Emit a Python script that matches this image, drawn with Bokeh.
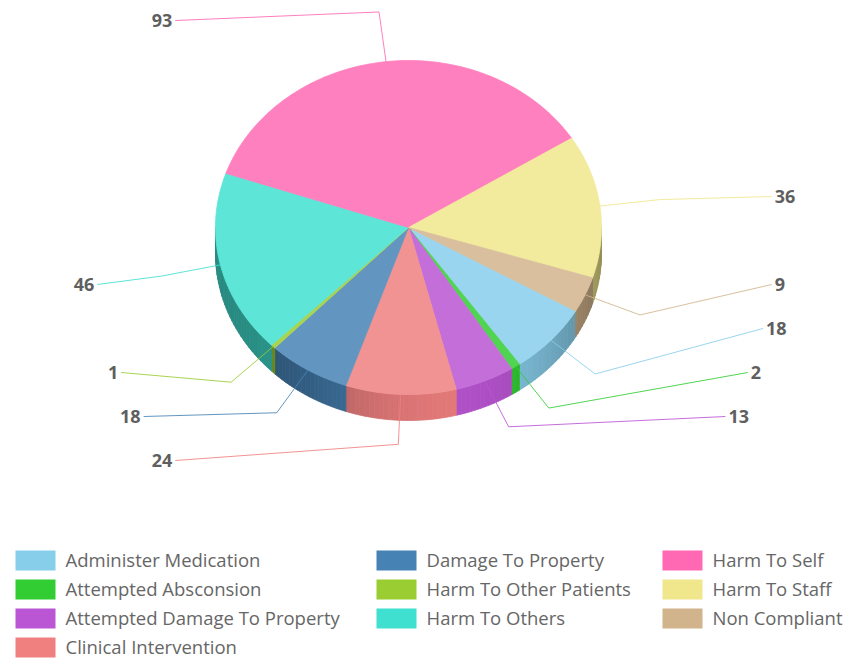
import math
import numpy as np
from bokeh.plotting import figure
from bokeh.models import Range1d, ColumnDataSource
from bokeh.core.properties import value
from bokeh.embed import file_html
from bokeh.resources import INLINE

# ---------------- data ----------------
categories = ["Administer Medication", "Attempted Absconsion", "Attempted Damage To Property",
              "Clinical Intervention", "Damage To Property", "Harm To Other Patients",
              "Harm To Others", "Harm To Self", "Harm To Staff", "Non Compliant"]
counts = [18, 2, 13, 24, 18, 1, 46, 93, 36, 9]
colors = ["#87CEEB", "#32CD32", "#BA55D3", "#F08080", "#4682B4", "#9ACD32",
          "#40E0D0", "#FF69B4", "#F0E68C", "#D2B48C"]

# ---------------- layout (picture pixel coordinates) ----------------
W, H = 846, 659
CX, CY = 408.0, 227.0
RX, RY = 193.0, 167.0
DEPTH = 26.0
START_DEG = -30.0
KNEE_DX, KNEE_DY = 60.0, 50.0
SLOT0, SLOT_STEP = 20.0, 44.0
LAB_CX, LAB_CY, LAB_R = CX + 26, CY + 13, 340.0
LEG_COLS_X = [15, 376, 662]
LEG_ROW0, LEG_ROW_STEP = 550, 29
FONT = "Open Sans"


def rgb(h):
    h = h.lstrip("#")
    return [int(h[i:i + 2], 16) for i in (0, 2, 4)]


def to_hex(c):
    return "#%02x%02x%02x" % tuple(max(0, min(255, int(round(v)))) for v in c)


def face_color(h):
    return to_hex([v * 0.85 + 255 * 0.15 for v in rgb(h)])


def wall_color(h, tdeg):
    f = 0.62 + 0.32 * max(0.0, math.cos(math.radians(tdeg + 75))) ** 3
    return to_hex([v * f for v in rgb(h)])


def ex(t):
    return CX + RX * math.cos(t)


def ey(t):
    return CY - RY * math.sin(t)


p = figure(width=W, height=H, output_backend="svg", toolbar_location=None,
           x_range=Range1d(0, W), y_range=Range1d(H, 0),
           x_axis_type=None, y_axis_type=None, min_border=0)
p.grid.visible = False
p.outline_line_color = None
p.background_fill_color = "white"
p.border_fill_color = "white"

total = float(sum(counts))
angles = []
a = math.radians(START_DEG)
for c in counts:
    sweep = c / total * 2 * math.pi
    angles.append((a - sweep, a))  # (end, start), clockwise
    a -= sweep

# ---------------- side walls ----------------
wx, wy, wc = [], [], []
for (lo0, hi0), col in zip(angles, colors):
    for k in (-1, 0, 1):
        lo = max(lo0, -math.pi + 2 * math.pi * k)
        hi = min(hi0, 2 * math.pi * k)
        if lo >= hi:
            continue
        n = max(1, int(math.ceil(math.degrees(hi - lo) / 1.5)))
        ts = np.linspace(lo, hi, n + 1)
        for t1, t2 in zip(ts[:-1], ts[1:]):
            xs = [ex(t1), ex(t2), ex(t2), ex(t1)]
            ys = [ey(t1), ey(t2), ey(t2) + DEPTH, ey(t1) + DEPTH]
            wx.append(xs)
            wy.append(ys)
            tm = math.degrees((t1 + t2) / 2 - 2 * math.pi * k)
            wc.append(wall_color(col, tm))
p.patches(wx, wy, fill_color=wc, line_color=wc, line_width=0.8)

# ---------------- top faces ----------------
fx, fy, fc = [], [], []
for (lo, hi), col in zip(angles, colors):
    n = max(2, int(math.ceil(math.degrees(hi - lo))))
    ts = np.linspace(hi, lo, n + 1)
    fx.append([CX] + [ex(t) for t in ts])
    fy.append([CY] + [ey(t) for t in ts])
    fc.append(face_color(col))
p.patches(fx, fy, fill_color=fc, line_color=fc, line_width=0.8)

# ---------------- labels & leader lines ----------------
info = []
for i, ((lo, hi), c) in enumerate(zip(angles, counts)):
    m = (lo + hi) / 2
    sx, sy = ex(m), ey(m)
    kx = CX + (RX + KNEE_DX) * math.cos(m)
    ky = CY - (RY + KNEE_DY) * math.sin(m)
    side = 1 if math.cos(m) >= 0 else -1
    info.append(dict(i=i, sx=sx, sy=sy, kx=kx, ky=ky, side=side))

for side in (1, -1):
    items = sorted([d for d in info if d["side"] == side], key=lambda d: -d["ky"])
    prev = 10 ** 6
    for d in items:
        idx = int(round((d["ky"] - SLOT0) / SLOT_STEP))
        idx = min(idx, prev - 1)
        prev = idx
        ly = SLOT0 + idx * SLOT_STEP
        dy = ly - LAB_CY
        lx = LAB_CX + side * math.sqrt(max(0.0, LAB_R ** 2 - dy ** 2))
        d["lx"], d["ly"] = lx, ly

lxs = [[d["sx"], d["kx"], d["lx"]] for d in info]
lys = [[d["sy"], d["ky"], d["ly"]] for d in info]
p.multi_line(lxs, lys, line_color=[colors[d["i"]] for d in info], line_width=1, line_alpha=0.85)

for side, align in ((1, "left"), (-1, "right")):
    ds = [d for d in info if d["side"] == side]
    src = ColumnDataSource(dict(x=[d["lx"] + side * 3 for d in ds], y=[d["ly"] for d in ds],
                                t=[str(counts[d["i"]]) for d in ds]))
    p.text(x="x", y="y", text="t", source=src, text_align=align, text_baseline="middle",
           text_font=value(FONT), text_font_style="bold", text_font_size="18px",
           text_color="#5f5f5f")

# ---------------- legend ----------------
ncol = len(LEG_COLS_X)
base, extra = divmod(len(categories), ncol)
per_col = [base + (1 if j < extra else 0) for j in range(ncol)]
lgx, lgy = [], []
for j, nrow in enumerate(per_col):
    for r in range(nrow):
        lgx.append(LEG_COLS_X[j])
        lgy.append(LEG_ROW0 + r * LEG_ROW_STEP)
p.quad(left=lgx, right=[x + 40 for x in lgx], top=lgy, bottom=[y + 20 for y in lgy],
       fill_color=colors, line_color=None)
p.text(x=[x + 50 for x in lgx], y=[y + 9 for y in lgy], text=categories,
       text_baseline="middle", text_align="left", text_font=value(FONT),
       text_font_size="18.5px", text_color="#666666")

open("out.html", "w").write(file_html(p, INLINE))
